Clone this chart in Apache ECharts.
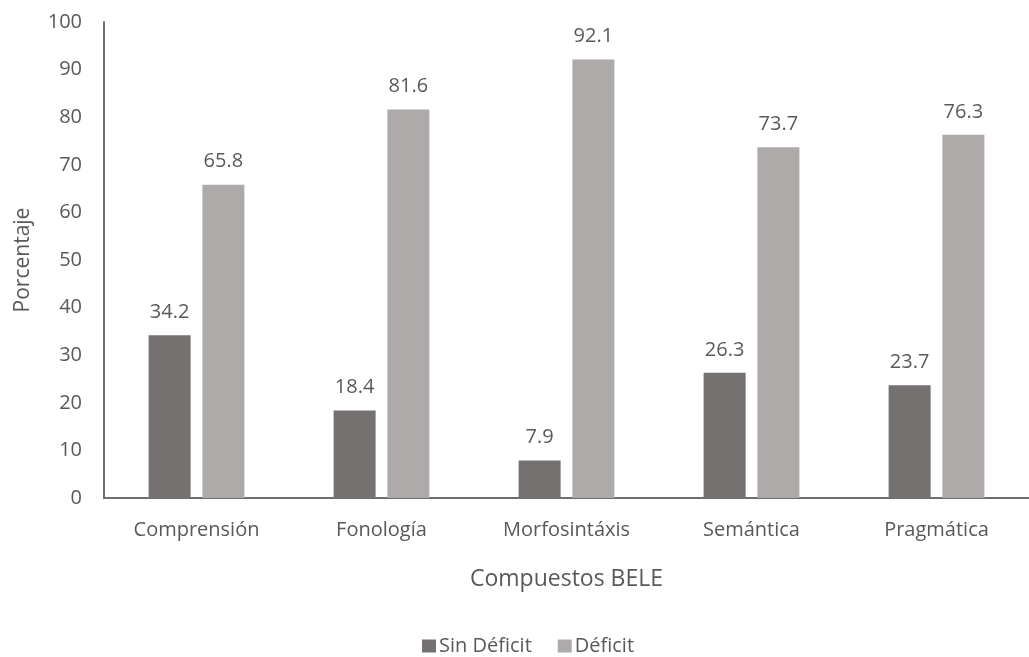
<!DOCTYPE html>
<html><head><meta charset="utf-8">
<script src="https://cdn.jsdelivr.net/npm/echarts@6/dist/echarts.min.js"></script>
<style>html,body{margin:0;padding:0;background:#fff}#c{width:1029px;height:657px}</style>
</head><body><div id="c"></div>
<script>
const categories = ['Comprensión','Fonología','Morfosintáxis','Semántica','Pragmática'];
const sinDeficit = [34.2, 18.4, 7.9, 26.3, 23.7];
const deficit = [65.8, 81.6, 92.1, 73.7, 76.3];
const seriesNames = ['Sin Déficit','Déficit'];
const font = '"Open Sans", sans-serif';
const txt = '#595959';
const chart = echarts.init(document.getElementById('c'));
const lbl = {show:true, position:'top', distance:13, color:txt, fontSize:20, fontFamily:font, formatter:p=>p.value.toFixed(1)};
chart.setOption({
  animation:false,
  textStyle:{fontFamily:font},
  grid:{left:104, right:-6, top:22, bottom:159, containLabel:false},
  legend:{top:636, left:422, padding:0, itemWidth:14, itemHeight:13, itemGap:26, icon:'rect',
    textStyle:{color:txt, fontSize:20, fontFamily:font, padding:[0,0,0,-2]}, data:seriesNames},
  xAxis:{type:'category', data:categories,
    name:'Compuestos BELE', nameLocation:'middle', nameGap:70,
    nameTextStyle:{color:txt, fontSize:23, fontFamily:font},
    axisLine:{lineStyle:{color:'#6e6e6e', width:2}}, axisTick:{show:false},
    axisLabel:{color:txt, fontSize:20, fontFamily:font, margin:22}},
  yAxis:{type:'value', min:0, max:100, interval:10,
    name:'Porcentaje', nameLocation:'middle', nameGap:70, nameRotate:90,
    nameTextStyle:{color:txt, fontSize:21, fontFamily:font},
    axisLine:{show:true, lineStyle:{color:'#6e6e6e', width:2}}, axisTick:{show:false}, splitLine:{show:false},
    axisLabel:{color:txt, fontSize:20, fontFamily:font, margin:22}},
  series:[
    {name:seriesNames[0], type:'bar', data:sinDeficit, barWidth:42, barGap:'28%', itemStyle:{color:'#767171'}, label:lbl},
    {name:seriesNames[1], type:'bar', data:deficit, barWidth:42, barGap:'28%', itemStyle:{color:'#AEAAAA'}, label:lbl}
  ]
});
</script></body></html>
